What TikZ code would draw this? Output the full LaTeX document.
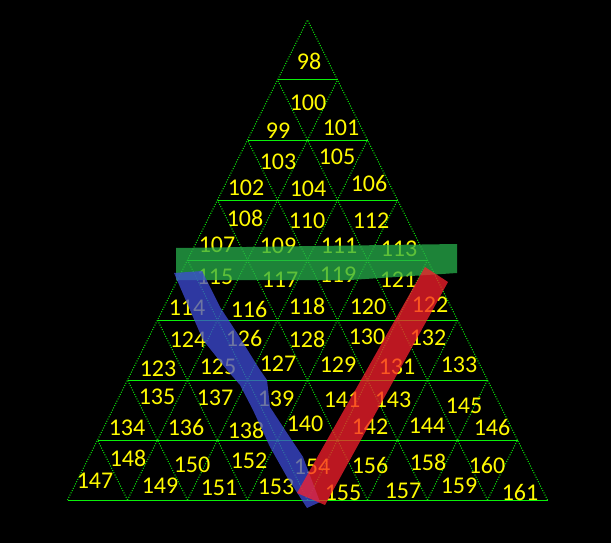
\documentclass[tikz,border=0pt]{standalone}
\usepackage{fontspec}
\setmainfont{Carlito}
\usepackage{tikz}
\definecolor{gridgreen}{RGB}{10,240,10}
\definecolor{numyellow}{RGB}{255,250,0}
\definecolor{bandgreen}{RGB}{40,175,75}
\definecolor{bandblue}{RGB}{62,75,215}
\definecolor{bandred}{RGB}{250,32,45}

\begin{document}
\begin{tikzpicture}[
    x=1pt, y=-1pt,
    num/.style={text=numyellow, inner sep=0pt, font=\fontsize{24}{24}\selectfont},
    hline/.style={draw=gridgreen, line width=1pt},
    sline/.style={draw=gridgreen, line width=1pt, dash pattern=on 1pt off 1.5pt},
    band/.style={fill opacity=0.75, draw=none}
]
\fill[black] (0,0) rectangle (611,543);
% grid
\foreach \k in {1,...,8}
  \draw[hline] (307.5-30*\k,20+60*\k) -- (307.5+30*\k,20+60*\k);
\foreach \j in {0,...,7} {
  \draw[sline] (67.5+60*\j,500) -- ++(240-30*\j,-480+60*\j);
  \draw[sline] (547.5-60*\j,500) -- ++(-240+30*\j,-480+60*\j);
}
% numbers
\foreach \n/\x/\y in {98/309/61,
    99/278/131, 100/308/103, 101/341/128,
    102/246/188, 103/278/162, 104/308/189, 105/337/157, 106/369/183,
    107/217/245, 108/245/218, 109/278/246, 110/307/221, 111/339/246, 112/371/221, 113/399/249,
    114/187/308, 115/215/277, 116/249/309, 117/280/280, 118/307/306, 119/338/275, 120/368/307, 121/398/280, 122/430/305,
    123/158/369, 124/188/340, 125/218/367, 126/244/338, 127/278/364, 128/307/339, 129/338/365, 130/367/337, 131/397/367, 132/428/338, 133/459/365,
    134/127/428, 135/157/397, 136/186/427, 137/215/398, 138/246/430, 139/276/399, 140/305/424, 141/342/400, 142/370/427, 143/393/400, 144/427/426, 145/464/406, 146/492/427,
    147/95/481, 148/128/458, 149/160/486, 150/192/465, 151/219/488, 152/249/461, 153/276/487, 154/312/467, 155/343/493, 156/370/465, 157/403/491, 158/428/462, 159/459/486, 160/487/465, 161/520/492}
  \node[num] (t\n) at (\x,\y) {\n};
% bands
\fill[band, fill=bandgreen] (176,248) -- (457,244) -- (457,273) -- (350,280) -- (176,280) -- cycle;
\fill[band, fill=bandblue] (174,273) -- (190,310) -- (203,340) -- (227,370) -- (240,385) -- (253,410)
  -- (270,447) -- (287,477) -- (307,508) -- (320,502) -- (303,457) -- (287,433) -- (270,407)
  -- (267,380) -- (260,370) -- (237,333) -- (220,307) -- (202,271) -- cycle;
\fill[band, fill=bandred] (425,267) -- (448,282) -- (325,505) -- (297,493) -- cycle;
\end{tikzpicture}
\end{document}
